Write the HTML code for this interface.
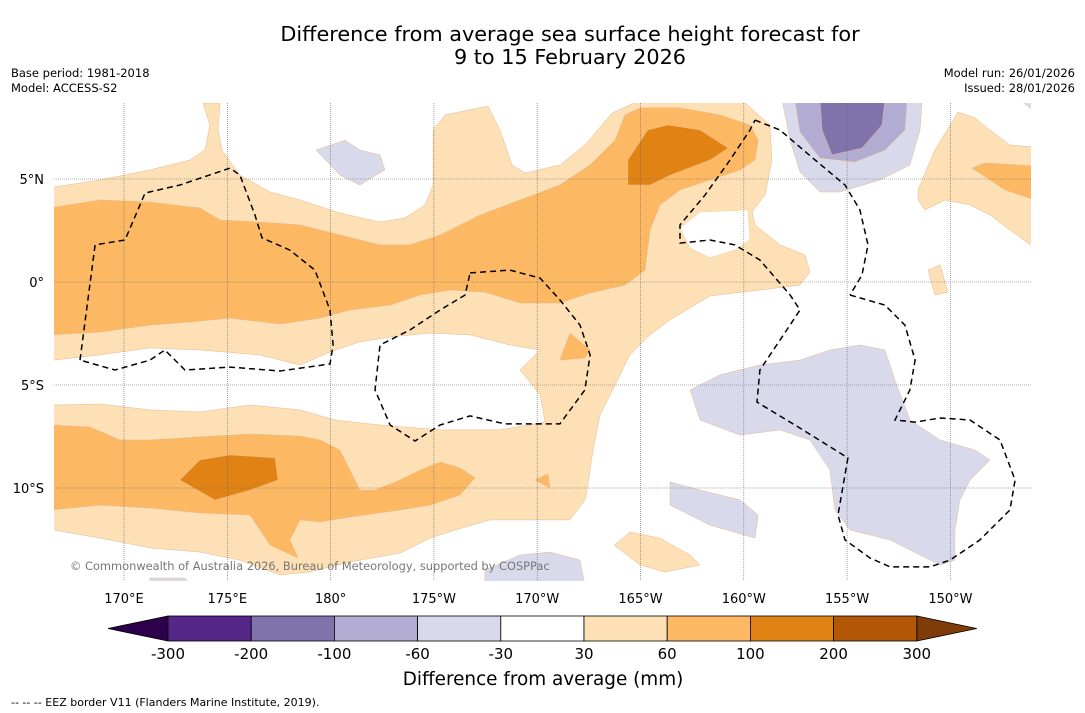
<!DOCTYPE html>
<html><head><meta charset="utf-8"><style>
body{margin:0;background:#fff;font-family:"DejaVu Sans",sans-serif}
svg{display:block}
</style></head><body>
<svg id="chart" width="1085" height="713" viewBox="0 0 1085 713" font-family="DejaVu Sans, sans-serif">
<rect width="1085" height="713" fill="#fff"/>
<text x="570" y="41" font-size="20.8" text-anchor="middle">Difference from average sea surface height forecast for</text>
<text x="570" y="64" font-size="20.8" text-anchor="middle">9 to 15 February 2026</text>
<text x="11" y="77" font-size="11.5">Base period: 1981-2018</text>
<text x="11" y="92" font-size="11.5">Model: ACCESS-S2</text>
<text x="1075" y="77" font-size="11.5" text-anchor="end">Model run: 26/01/2026</text>
<text x="1075" y="92" font-size="11.5" text-anchor="end">Issued: 28/01/2026</text>
<defs><clipPath id="mapclip"><rect x="54" y="103" width="977" height="478"/></clipPath></defs>
<g id="map" clip-path="url(#mapclip)"></g>
<g id="grid"></g>
<g id="eez" clip-path="url(#mapclip)"></g>
<text x="70" y="570" font-size="11.4" fill="#777">© Commonwealth of Australia 2026, Bureau of Meteorology, supported by COSPPac</text>
<g id="axes"></g>
<g id="cbar"></g>
<text x="543" y="685" font-size="18.4" text-anchor="middle">Difference from average (mm)</text>
<text x="11" y="706" font-size="11">-- -- -- EEZ border V11 (Flanders Marine Institute, 2019).</text>
</svg>
<script>
const lonTicks=[170,175,180,185,190,195,200,205,210];
const lonLabels=["170°E","175°E","180°","175°W","170°W","165°W","160°W","155°W","150°W"];
const latTicks=[5,0,-5,-10];
const latLabels=["5°N","0°","5°S","10°S"];
const cbLevels=["-300","-200","-100","-60","-30","30","60","100","200","300"];
const cbColors=["#542788","#8073ac","#b2abd2","#d8daeb","#ffffff","#fee0b6","#fdb863","#e08214","#b35806"];
const cbExtend=["#2d004b","#7f3b08"];
const X=lon=>124+(lon-170)*20.66;
const Y=lat=>282-lat*20.6;
const iL=x=>170+(x-124)/20.66, iT=y=>(282-y)/20.6;
function P(arr){const o=[];for(let i=0;i<arr.length;i+=2)o.push([+iL(arr[i]).toFixed(2),+iT(arr[i+1]).toFixed(2)]);return o;}
const regions=[
["light-orange-main","#fee0b6",P([54,187,100,180,150,170,190,160,205,150,210,125,203,103,220,103,218,130,222,150,240,175,270,192,300,200,340,213,380,222,405,218,425,205,433,185,433,130,445,115,488,106,500,130,512,165,525,173,560,165,585,145,612,113,640,100,742,100,770,125,772,160,765,195,752,212,755,225,780,245,805,255,810,272,800,285,760,290,710,296,670,320,650,335,630,355,615,385,600,415,593,450,587,490,585,500,570,520,520,520,490,520,455,530,430,538,400,553,350,562,310,572,280,575,240,560,200,552,150,548,100,538,54,530,50,530,50,405,54,405,100,404,150,410,200,412,250,405,300,410,335,420,380,425,440,430,500,430,545,422,540,395,520,370,540,350,510,345,470,335,430,333,390,337,360,342,330,352,300,365,260,355,200,350,150,348,100,355,54,360,50,360,50,187])],
["white-pocket","#ffffff",P([680,228,700,212,748,210,750,240,735,250,710,258,690,248])],
["light-orange-east","#fee0b6",P([918,190,935,150,958,112,975,118,990,130,1010,145,1035,147,1035,248,1010,230,990,215,970,205,945,200,925,210,918,200])],
["light-orange-blob1","#fee0b6",P([928,270,940,265,948,292,935,295])],
["light-orange-blob2","#fee0b6",P([614,545,630,532,660,538,690,555,700,565,665,572,640,565])],
["medium-orange-north","#fdb863",P([50,208,100,200,150,202,200,208,220,220,260,222,300,225,340,235,380,245,410,245,440,235,480,215,520,200,560,185,590,165,615,140,625,115,640,108,680,108,720,115,750,125,758,140,755,160,740,170,710,180,680,190,660,205,650,230,645,270,625,285,590,293,560,303,520,303,485,292,450,290,420,295,390,305,350,310,320,318,280,324,230,318,190,322,150,325,100,332,50,335])],
["medium-orange-east","#fdb863",P([972,168,985,163,1035,166,1035,200,1005,190])],
["medium-orange-blob","#fdb863",P([560,360,570,333,590,350,585,358])],
["medium-orange-south","#fdb863",P([50,425,90,427,120,440,150,440,200,437,250,434,300,436,320,440,340,450,360,490,375,490,400,480,420,470,440,462,460,468,475,478,460,495,430,505,400,510,350,517,320,522,300,520,290,540,298,558,270,545,250,515,200,513,150,508,100,505,50,510])],
["medium-orange-blob2","#fdb863",P([535,480,548,474,550,488])],
["dark-orange-north","#e08214",P([628,160,648,130,668,125,700,130,728,148,710,160,670,175,650,185,628,185])],
["dark-orange-south","#e08214",P([180,480,200,460,230,455,275,458,278,480,250,490,215,500])],
["light-purple-north","#d8daeb",P([782,100,922,100,920,130,910,165,880,180,840,192,820,192,800,172,790,140])],
["mid-purple-north","#b2abd2",P([795,100,907,100,905,130,885,150,855,162,820,158,800,132])],
["dark-purple-north","#8073ac",P([820,100,885,100,882,125,862,148,832,155,822,130])],
["light-purple-corner","#d8daeb",P([1020,100,1035,100,1035,112])],
["light-purple-west","#d8daeb",P([316,150,345,140,360,150,380,155,385,170,360,185,340,175])],
["light-purple-south","#d8daeb",P([690,390,720,375,760,365,800,360,830,350,860,345,885,350,895,380,910,420,940,440,975,450,990,460,970,480,960,500,955,530,955,560,940,565,920,555,890,540,850,530,835,510,830,470,810,440,780,430,740,435,700,420])],
["light-purple-strip","#d8daeb",P([670,482,700,490,740,500,758,515,755,538,710,525,670,505])],
["light-purple-bottom","#d8daeb",P([485,570,520,555,550,552,580,560,585,585,485,585])],
["light-purple-bl","#d8daeb",P([150,578,185,578,190,585,150,585])]
];
const eezLines=[
P([80,360,95,245,125,240,145,193,180,185,230,168,240,175,255,215,262,238,290,250,315,270,330,310,333,345,330,364,280,371,230,367,185,370,165,350,150,360,115,370,80,360]),
P([470,273,510,270,540,278,560,300,580,325,590,355,585,390,560,424,505,424,470,416,440,425,415,441,390,425,375,390,380,345,410,330,440,310,465,295,470,273]),
P([755,120,780,130,815,160,845,185,860,210,868,245,862,275,850,295]),
P([850,295,885,305,905,325,915,360,910,390,895,420,915,422,940,418,970,420,1000,440,1015,480,1010,510,980,540,950,560,930,567,890,567,870,558,845,540,838,515,848,458,800,428,757,402,760,370,780,340,800,310,790,295,760,260,735,245,710,240,680,243,680,225,705,195,730,160,750,130,755,120])
];
const NS="http://www.w3.org/2000/svg";
function mk(t,a,p){const e=document.createElementNS(NS,t);for(const k in a)e.setAttribute(k,a[k]);p.appendChild(e);return e;}
const map=document.getElementById('map');
regions.forEach(r=>{
 const e=mk('polygon',{points:r[2].map(p=>X(p[0]).toFixed(1)+','+Y(p[1]).toFixed(1)).join(' '),fill:r[1],stroke:r[1]==="#ffffff"?"#f5cf9e":"#e8b88a","stroke-width":0.5},map);
 
 
});
const eez=document.getElementById('eez');
eezLines.forEach((l,i)=>{
 const e=mk('polyline',{points:l.map(p=>X(p[0]).toFixed(1)+','+Y(p[1]).toFixed(1)).join(' '),fill:'none',stroke:'#000','stroke-width':1.5,'stroke-dasharray':'6,4'},eez);
 
 
});
const grid=document.getElementById('grid'),axes=document.getElementById('axes');
lonTicks.forEach((v,i)=>{
 const g=mk('line',{x1:X(v),x2:X(v),y1:103,y2:581,stroke:'#666','stroke-width':0.6,'stroke-dasharray':'1,1'},grid);
 
 
 const t=mk('text',{x:X(v),y:603,'font-size':13,'text-anchor':'middle'},axes);t.textContent=lonLabels[i];
 
 
});
latTicks.forEach((v,i)=>{
 const g=mk('line',{x1:54,x2:1031,y1:Y(v),y2:Y(v),stroke:'#666','stroke-width':0.6,'stroke-dasharray':'1,1'},grid);
 
 
 const t=mk('text',{x:44,y:Y(v)+5,'font-size':13,'text-anchor':'end'},axes);t.textContent=latLabels[i];
 
 
});
const cb=document.getElementById('cbar');
const cx0=168,cw=83.2,cy=616,ch=25;
let tri=mk('polygon',{points:`108,${cy+ch/2} ${cx0},${cy} ${cx0},${cy+ch}`,fill:cbExtend[0],stroke:'#000','stroke-width':0.8},cb);


const cend=cx0+cw*cbColors.length;
tri=mk('polygon',{points:`${cend+60},${cy+ch/2} ${cend},${cy} ${cend},${cy+ch}`,fill:cbExtend[1],stroke:'#000','stroke-width':0.8},cb);


cbColors.forEach((c,i)=>{
 const r=mk('rect',{x:cx0+i*cw,y:cy,width:cw,height:ch,fill:c,stroke:'#000','stroke-width':0.8},cb);
 
 
});
cbLevels.forEach((l,i)=>{
 const t=mk('text',{x:cx0+i*cw,y:659,'font-size':15,'text-anchor':'middle'},cb);t.textContent=l;
 
 
});
</script>
</body></html>
